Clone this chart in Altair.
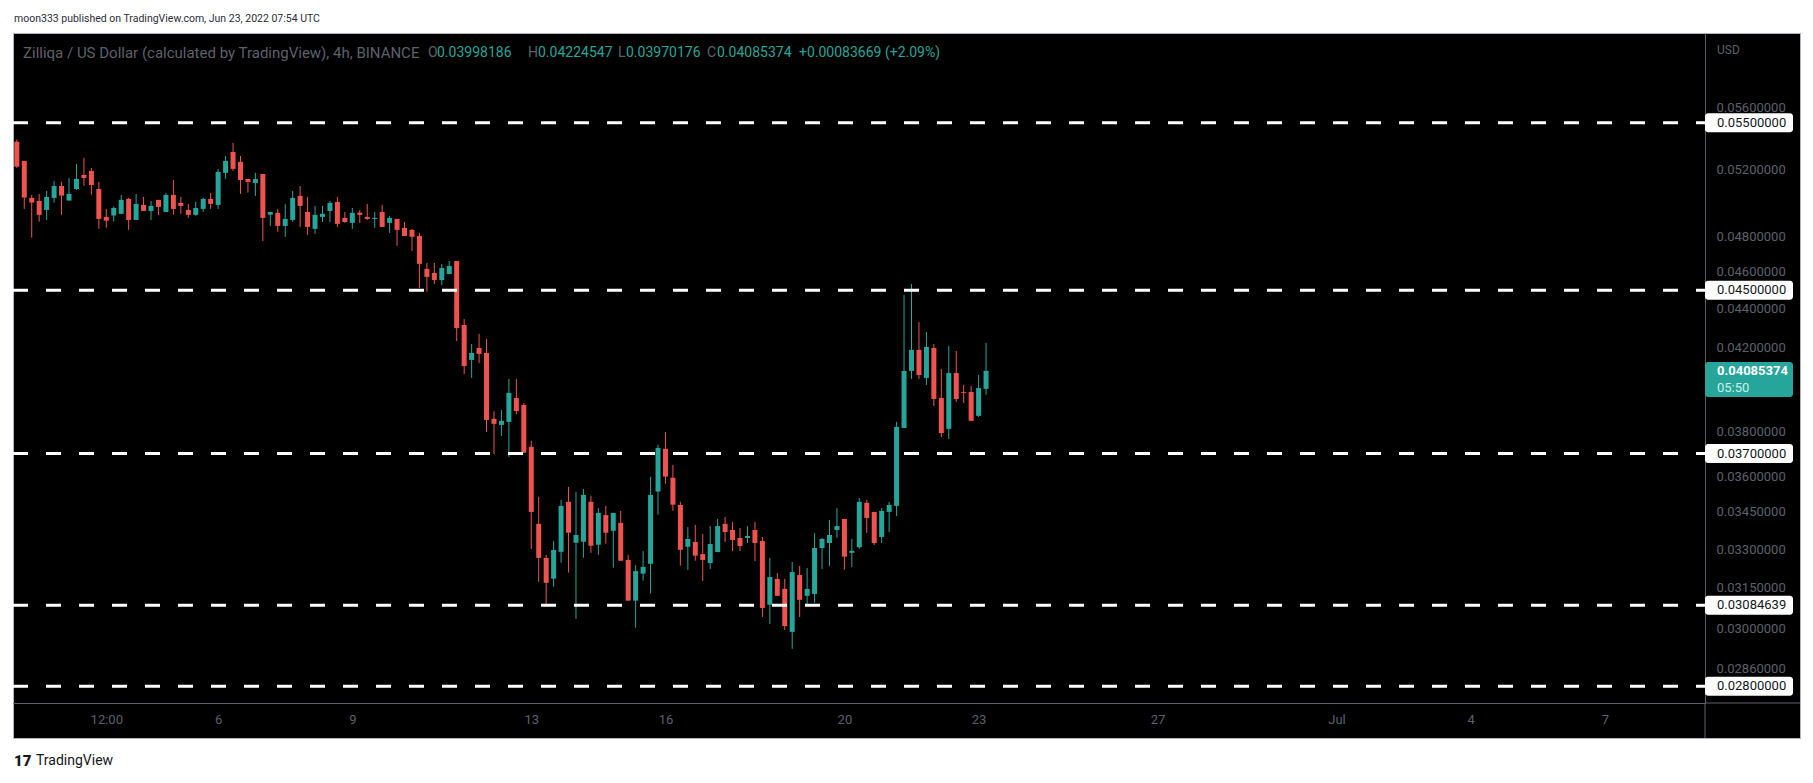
import numpy as np
import pandas as pd
import altair as alt

# ---------------- data ----------------
FIRST_BAR = "2022-06-01 12:00"   # 4h candles, ZIL/USD
OPEN = [0.05376, 0.05254, 0.05026, 0.05008, 0.04954, 0.05026, 0.05098, 0.05010, 0.05080, 0.05166,
        0.05191, 0.05080, 0.04913, 0.04921, 0.04931, 0.05020, 0.04895, 0.04984, 0.04948, 0.05014,
        0.04942, 0.05044, 0.04996, 0.04954, 0.04925, 0.04960, 0.05020, 0.04984, 0.05179, 0.05310,
        0.05248, 0.05141, 0.05117, 0.05172, 0.04925, 0.04937, 0.04860, 0.04895, 0.05038, 0.04942,
        0.04843, 0.04913, 0.04948, 0.05002, 0.04907, 0.04878, 0.04938, 0.04913, 0.04901, 0.04942,
        0.04878, 0.04901, 0.04849, 0.04837, 0.04802, 0.04616, 0.04594, 0.04555, 0.04588, 0.04660,
        0.04316, 0.04139, 0.04199, 0.04174, 0.03857, 0.03829, 0.03843, 0.03955, 0.03922, 0.03730,
        0.03401, 0.03265, 0.03185, 0.03289, 0.03492, 0.03325, 0.03329, 0.03492, 0.03317, 0.03437,
        0.03373, 0.03405, 0.03257, 0.03102, 0.03204, 0.03242, 0.03535, 0.03721, 0.03594, 0.03479,
        0.03309, 0.03328, 0.03280, 0.03245, 0.03288, 0.03401, 0.03376, 0.03344, 0.03344, 0.03376,
        0.03332, 0.03087, 0.03184, 0.03146, 0.02988, 0.03199, 0.03120, 0.03127, 0.03304, 0.03324,
        0.03376, 0.03421, 0.03285, 0.03307, 0.03488, 0.03450, 0.03348, 0.03450, 0.03475, 0.03815,
        0.04085, 0.04189, 0.04051, 0.04199, 0.03955, 0.03811, 0.04075, 0.03983, 0.03983, 0.03871,
        0.03998186]
HIGH = [0.05390, 0.05254, 0.05044, 0.05050, 0.05068, 0.05129, 0.05125, 0.05147, 0.05235, 0.05273,
        0.05210, 0.05123, 0.04960, 0.04974, 0.05044, 0.05026, 0.05050, 0.05032, 0.05008, 0.05014,
        0.05056, 0.05135, 0.05032, 0.04990, 0.05002, 0.05026, 0.05056, 0.05204, 0.05285, 0.05368,
        0.05285, 0.05141, 0.05179, 0.05172, 0.04942, 0.04960, 0.04990, 0.05068, 0.05098, 0.05032,
        0.04978, 0.04978, 0.05008, 0.05032, 0.04942, 0.04966, 0.04954, 0.04990, 0.04942, 0.04984,
        0.04919, 0.04901, 0.04883, 0.04843, 0.04820, 0.04649, 0.04649, 0.04644, 0.04660, 0.04660,
        0.04347, 0.04219, 0.04270, 0.04244, 0.03893, 0.03898, 0.04046, 0.04046, 0.03931, 0.03757,
        0.03513, 0.03277, 0.03332, 0.03500, 0.03555, 0.03534, 0.03546, 0.03517, 0.03466, 0.03475,
        0.03446, 0.03454, 0.03277, 0.03237, 0.03292, 0.03598, 0.03739, 0.03797, 0.03650, 0.03492,
        0.03388, 0.03397, 0.03360, 0.03392, 0.03421, 0.03429, 0.03409, 0.03384, 0.03392, 0.03409,
        0.03348, 0.03265, 0.03206, 0.03184, 0.03249, 0.03234, 0.03226, 0.03364, 0.03344, 0.03417,
        0.03466, 0.03421, 0.03340, 0.03508, 0.03500, 0.03450, 0.03466, 0.03492, 0.03843, 0.04474,
        0.04533, 0.04332, 0.04280, 0.04219, 0.04095, 0.04209, 0.04184, 0.04017, 0.04012, 0.04065,
        0.04224547]
LOW = [0.05210, 0.04960, 0.04792, 0.04885, 0.04895, 0.04998, 0.04925, 0.05010, 0.05074, 0.05100,
       0.05045, 0.04843, 0.04850, 0.04885, 0.04931, 0.04837, 0.04895, 0.04948, 0.04895, 0.04925,
       0.04942, 0.04925, 0.04931, 0.04907, 0.04919, 0.04942, 0.04960, 0.04960, 0.05141, 0.05191,
       0.05050, 0.05058, 0.05038, 0.04773, 0.04860, 0.04826, 0.04797, 0.04883, 0.04854, 0.04808,
       0.04814, 0.04883, 0.04883, 0.04854, 0.04878, 0.04843, 0.04878, 0.04895, 0.04849, 0.04854,
       0.04820, 0.04745, 0.04802, 0.04716, 0.04512, 0.04492, 0.04533, 0.04528, 0.04588, 0.04234,
       0.04070, 0.04051, 0.04124, 0.03797, 0.03698, 0.03779, 0.03685, 0.03879, 0.03703, 0.03300,
       0.03172, 0.03087, 0.03154, 0.03246, 0.03208, 0.03035, 0.03266, 0.03285, 0.03277, 0.03321,
       0.03227, 0.03254, 0.03102, 0.03003, 0.03177, 0.03128, 0.03438, 0.03569, 0.03455, 0.03235,
       0.03219, 0.03254, 0.03176, 0.03222, 0.03288, 0.03328, 0.03292, 0.03292, 0.03324, 0.03253,
       0.03042, 0.03016, 0.03120, 0.02995, 0.02928, 0.03042, 0.03079, 0.03094, 0.03222, 0.03234,
       0.03344, 0.03219, 0.03230, 0.03301, 0.03364, 0.03316, 0.03324, 0.03368, 0.03433, 0.03815,
       0.04046, 0.04046, 0.04017, 0.03917, 0.03774, 0.03765, 0.03936, 0.03931, 0.03848, 0.03866,
       0.03970176]
CLOSE = [0.05218, 0.05028, 0.04998, 0.04925, 0.05032, 0.05098, 0.05040, 0.05050, 0.05141, 0.05147,
         0.05104, 0.04901, 0.04891, 0.04966, 0.05014, 0.04895, 0.04990, 0.04948, 0.04978, 0.04972,
         0.05044, 0.04960, 0.04978, 0.04925, 0.04966, 0.05020, 0.04990, 0.05185, 0.05254, 0.05204,
         0.05135, 0.05123, 0.05141, 0.04907, 0.04942, 0.04860, 0.04901, 0.05026, 0.04978, 0.04854,
         0.04925, 0.04931, 0.04996, 0.04872, 0.04883, 0.04937, 0.04925, 0.04901, 0.04907, 0.04854,
         0.04907, 0.04837, 0.04802, 0.04797, 0.04644, 0.04572, 0.04555, 0.04621, 0.04632, 0.04300,
         0.04109, 0.04174, 0.04169, 0.03852, 0.03834, 0.03848, 0.03979, 0.03893, 0.03703, 0.03450,
         0.03265, 0.03169, 0.03296, 0.03475, 0.03365, 0.03356, 0.03521, 0.03313, 0.03446, 0.03365,
         0.03446, 0.03254, 0.03102, 0.03214, 0.03230, 0.03521, 0.03725, 0.03599, 0.03480, 0.03297,
         0.03340, 0.03274, 0.03257, 0.03320, 0.03392, 0.03368, 0.03336, 0.03312, 0.03352, 0.03324,
         0.03075, 0.03191, 0.03120, 0.03009, 0.03210, 0.03105, 0.03146, 0.03304, 0.03340, 0.03356,
         0.03392, 0.03270, 0.03293, 0.03492, 0.03425, 0.03324, 0.03454, 0.03479, 0.03820, 0.04085,
         0.04189, 0.04065, 0.04204, 0.03950, 0.03792, 0.04075, 0.03950, 0.03979, 0.03848, 0.04002,
         0.04085374]

LEVELS = [0.055, 0.045, 0.037, 0.03084639, 0.028]          # dashed horizontal levels
Y_TICKS = [0.056, 0.052, 0.048, 0.046, 0.044, 0.042, 0.038, 0.036,
           0.0345, 0.033, 0.0315, 0.030, 0.0286]
Y_DOMAIN = [0.02744, 0.06124]
X_DOMAIN = ["2022-06-01T12:38:00Z", "2022-07-09T03:02:00Z"]
X_TICKS = ["2022-06-03T12:00:00Z", "2022-06-06T00:00:00Z", "2022-06-09T00:00:00Z",
           "2022-06-13T00:00:00Z", "2022-06-16T00:00:00Z", "2022-06-20T00:00:00Z",
           "2022-06-23T00:00:00Z", "2022-06-27T00:00:00Z", "2022-07-01T00:00:00Z",
           "2022-07-04T00:00:00Z", "2022-07-07T00:00:00Z"]
X_TICK_LABELS = ["12:00", "6", "9", "13", "16", "20", "23", "27", "Jul", "4", "7"]

HEADER = "moon333 published on TradingView.com, Jun 23, 2022 07:54 UTC"
SYMBOL = "Zilliqa / US Dollar (calculated by TradingView), 4h, BINANCE"
CHANGE = "+0.00083669 (+2.09%)"
COUNTDOWN = "05:50"

# ---------------- styling ----------------
FONT = "Roboto, 'Liberation Sans', Arial, sans-serif"
UP, DOWN = "#26a69a", "#ef5350"
GRAY = "#5d606b"
SEP = "#5d606b"
W, H = 1787, 705          # black panel
PW, PH = 1692, 670        # price pane inside the panel


def ms(s):
    return int(pd.Timestamp(s).value // 10**6)


times = pd.date_range(FIRST_BAR, periods=len(OPEN), freq="4h", tz="UTC")
bars = pd.DataFrame({
    "t": times.strftime("%Y-%m-%dT%H:%M:%SZ"),
    "open": OPEN, "high": HIGH, "low": LOW, "close": CLOSE,
})
bars["dir"] = np.where(bars["close"] >= bars["open"], "up", "down")

XS = alt.Scale(type="utc", domain=[ms(X_DOMAIN[0]), ms(X_DOMAIN[1])], range=[0, PW])
YS = alt.Scale(type="log", domain=Y_DOMAIN, range=[PH, 0], nice=False)
CS = alt.Scale(domain=["up", "down"], range=[UP, DOWN])

label_expr = "".join(
    f"time(datum.value) == {ms(t)} ? '{l}' : " for t, l in zip(X_TICKS, X_TICK_LABELS)
) + "''"

XA = alt.Axis(orient="bottom", offset=-(H - PH), values=[ms(t) for t in X_TICKS],
              labelExpr=label_expr, grid=False, ticks=False, domain=True,
              domainColor=SEP, domainWidth=1, labelColor=GRAY, labelFont=FONT,
              labelFontSize=13, labelPadding=10, labelFlush=False,
              labelOverlap=False, labelBound=False, title=None)
YA = alt.Axis(orient="right", offset=-(W - PW), values=Y_TICKS, format=".8f",
              grid=False, ticks=False, domain=True, domainColor=SEP, domainWidth=1,
              labelColor=GRAY, labelFont=FONT, labelFontSize=13, labelPadding=11,
              labelOverlap=False, labelBound=False, title=None)


def X(field):
    return alt.X(field, scale=XS, axis=XA, title=None)


def Y(field):
    return alt.Y(field, scale=YS, axis=YA, title=None)


color = alt.Color("dir:N", scale=CS, legend=None)

wicks = alt.Chart(bars).mark_rule(strokeWidth=1, clip=True).encode(
    x=X("t:T"), y=Y("low:Q"), y2="high:Q", color=color)
bodies = alt.Chart(bars).mark_bar(size=5, clip=True).encode(
    x=X("t:T"), y=Y("open:Q"), y2="close:Q", color=color)

lv = pd.DataFrame({"level": LEVELS, "label": [f"{v:.8f}" for v in LEVELS]})
dashes = alt.Chart(lv).mark_rule(color="white", strokeWidth=3, strokeDash=[15, 18],
                                 strokeCap="butt").encode(
    y=Y("level:Q"), x=alt.value(0), x2=alt.value(PW))
tags = alt.Chart(lv).mark_tick(color="white", size=88, thickness=19, opacity=1,
                               cornerRadius=3).encode(
    y=Y("level:Q"), x=alt.value(PW + 44))
tag_text = alt.Chart(lv).mark_text(align="left", baseline="middle", color="#131722",
                                   fontSize=13, font=FONT).encode(
    y=Y("level:Q"), x=alt.value(PW + 12), text="label:N")

cur = pd.DataFrame({"price": [CLOSE[-1]], "label": [f"{CLOSE[-1]:.8f}"], "timer": [COUNTDOWN]})
cur_tag = alt.Chart(cur).mark_tick(color=UP, size=88, thickness=35, opacity=1,
                                   cornerRadius=3, yOffset=8.7).encode(
    y=Y("price:Q"), x=alt.value(PW + 44))
cur_text = alt.Chart(cur).mark_text(align="left", baseline="middle", color="white",
                                    fontSize=13, font=FONT, fontWeight="bold").encode(
    y=Y("price:Q"), x=alt.value(PW + 12), text="label:N")
cur_timer = alt.Chart(cur).mark_text(align="left", baseline="middle", color="#cdeeea",
                                     fontSize=13, font=FONT, yOffset=17).encode(
    y=Y("price:Q"), x=alt.value(PW + 12), text="timer:N")

one = pd.DataFrame({"k": [0]})
sep_v = alt.Chart(one).mark_rule(color=SEP, strokeWidth=1).encode(
    x=alt.value(PW), y=alt.value(PH), y2=alt.value(H))
sep_h = alt.Chart(one).mark_rule(color=SEP, strokeWidth=1).encode(
    x=alt.value(PW), x2=alt.value(W), y=alt.value(PH))


def txt(s, x, y, color, size=13, weight="normal"):
    return alt.Chart(pd.DataFrame({"s": [s]})).mark_text(
        align="left", baseline="middle", color=color, fontSize=size, font=FONT,
        fontWeight=weight).encode(text="s:N", x=alt.value(x), y=alt.value(y))


LY = 20
LS = 14
legend = [
    txt(SYMBOL, 10, LY, GRAY, 15),
    txt("O", 415, LY, GRAY, LS), txt(f"{OPEN[-1]:.8f}", 424, LY, UP, LS),
    txt("H", 515, LY, GRAY, LS), txt(f"{HIGH[-1]:.8f}", 525, LY, UP, LS),
    txt("L", 605, LY, GRAY, LS), txt(f"{LOW[-1]:.8f}", 613, LY, UP, LS),
    txt("C", 694, LY, GRAY, LS), txt(f"{CLOSE[-1]:.8f}", 704, LY, UP, LS),
    txt(CHANGE, 786, LY, UP, LS),
    txt("USD", PW + 12, 17, GRAY, 12),
    txt(HEADER, 1, -14.5, "#2a2e39", 10.5),
    txt("17", 1, 728, "#131722", 15, 900),
    txt("TradingView", 23, 728, "#131722", 14),
]

chart = alt.layer(
    wicks, bodies, dashes, sep_v, sep_h, tags, tag_text, cur_tag, cur_text, cur_timer,
    *legend,
).properties(
    width=W, height=H, background="white",
    padding={"left": 5, "top": 25, "right": 5, "bottom": 45},
    autosize=alt.AutoSizeParams(type="none"),
).configure_view(fill="black", stroke="#b2b5be", strokeWidth=1)

chart.save("out.html", embed_options={"renderer": "svg", "actions": False})
